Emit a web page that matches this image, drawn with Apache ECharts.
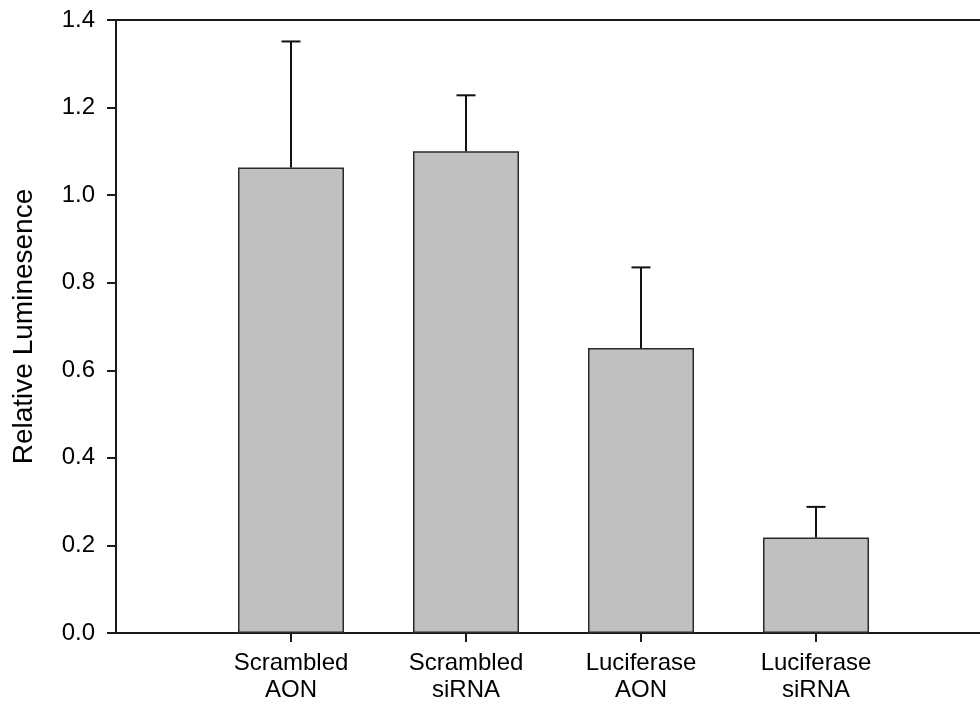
<!DOCTYPE html>
<html>
<head>
<meta charset="utf-8">
<script src="https://cdn.jsdelivr.net/npm/echarts@6/dist/echarts.min.js"></script>
<style>
html,body{margin:0;padding:0;background:#fff;}
#chart{width:980px;height:704px;}
</style>
</head>
<body>
<div id="chart"></div>
<script>
const categories = ['Scrambled\nAON', 'Scrambled\nsiRNA', 'Luciferase\nAON', 'Luciferase\nsiRNA'];
const positions = [1, 2, 3, 4];
const means = [1.063, 1.100, 0.651, 0.218];
const errors = [0.288, 0.128, 0.184, 0.070];
const yTicks = [0.0, 0.2, 0.4, 0.6, 0.8, 1.0, 1.2, 1.4];

const barData = means.map((m, i) => [positions[i], m]);
const errData = means.map((m, i) => [positions[i], m, errors[i]]);

const FONT = 'Liberation Sans, Arial, sans-serif';
const X_MIN = 0, X_MAX = 4.937; // axis continues past the right edge of the picture
const chart = echarts.init(document.getElementById('chart'), null, {renderer: 'canvas'});
chart.setOption({
  animation: false,
  backgroundColor: '#fff',
  grid: {left: 116, top: 20, bottom: 70, right: 0, containLabel: false},
  xAxis: [{
    type: 'value',
    min: X_MIN,
    max: X_MAX,
    axisLine: {show: true, onZero: false, lineStyle: {color: '#1a1a1a', width: 2}},
    axisTick: {show: true, length: 9, customValues: positions, lineStyle: {color: '#1a1a1a', width: 2}},
    axisLabel: {
      show: true, customValues: positions, margin: 17, color: '#000', fontFamily: FONT,
      fontSize: 24, lineHeight: 27, align: 'center',
      formatter: (v) => categories[positions.indexOf(Math.round(v))] || ''
    },
    splitLine: {show: false}
  }, {
    type: 'value',
    position: 'top',
    min: X_MIN,
    max: X_MAX,
    axisLine: {show: true, onZero: false, lineStyle: {color: '#1a1a1a', width: 2}},
    axisTick: {show: false},
    axisLabel: {show: false},
    splitLine: {show: false}
  }],
  yAxis: {
    type: 'value',
    min: yTicks[0],
    max: yTicks[yTicks.length - 1],
    interval: 0.2,
    name: 'Relative Luminesence',
    nameLocation: 'middle',
    nameGap: 78,
    nameTextStyle: {color: '#000', fontFamily: FONT, fontSize: 28},
    axisLine: {show: true, lineStyle: {color: '#1a1a1a', width: 2}},
    axisTick: {show: true, length: 9, lineStyle: {color: '#1a1a1a', width: 2}},
    axisLabel: {margin: 21, color: '#000', fontFamily: FONT, fontSize: 24, formatter: (v) => v.toFixed(1)},
    splitLine: {show: false}
  },
  series: [{
    type: 'bar',
    xAxisIndex: 0,
    data: barData,
    barWidth: 106,
    itemStyle: {color: '#c0c0c0', borderColor: '#2a2a2a', borderWidth: 1.5},
    z: 2
  }, {
    type: 'custom',
    xAxisIndex: 0,
    data: errData,
    z: 3,
    renderItem: function (params, api) {
      const x = api.value(0), m = api.value(1), e = api.value(2);
      const base = api.coord([x, m]);
      const top = api.coord([x, m + e]);
      const half = 9.5;
      const style = {stroke: '#111', lineWidth: 2};
      return {
        type: 'group',
        children: [
          {type: 'line', shape: {x1: base[0], y1: base[1], x2: top[0], y2: top[1]}, style: style},
          {type: 'line', shape: {x1: top[0] - half, y1: top[1], x2: top[0] + half, y2: top[1]}, style: style}
        ]
      };
    }
  }]
});
</script>
</body>
</html>
